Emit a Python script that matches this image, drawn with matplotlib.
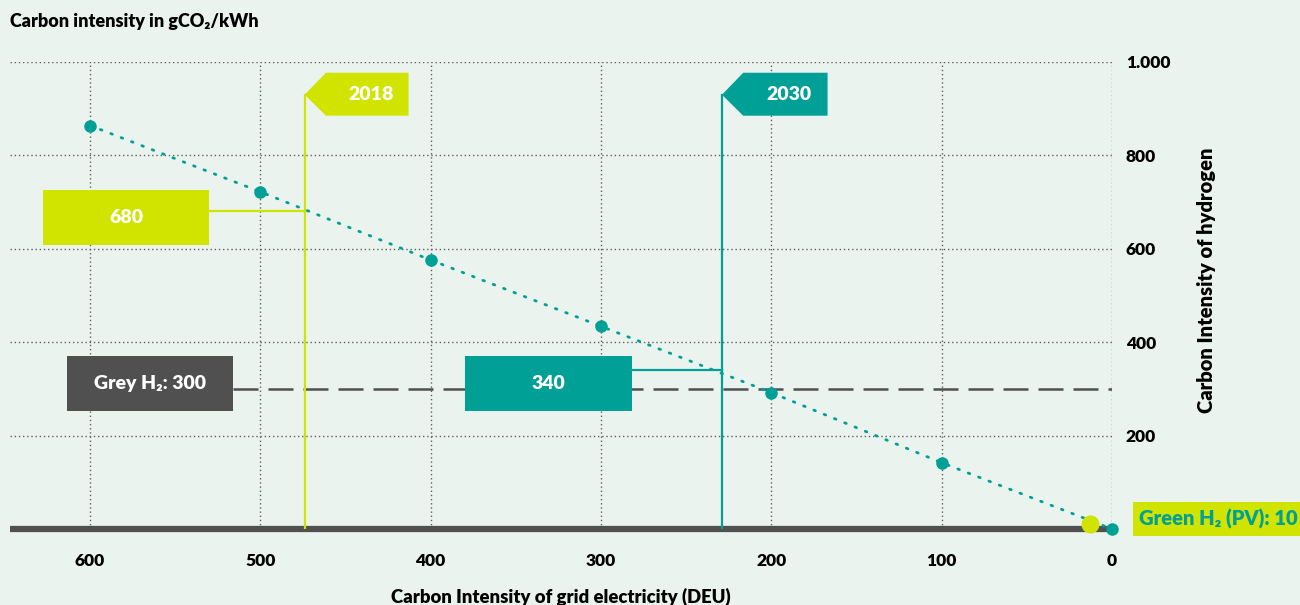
import matplotlib.pyplot as plt
from matplotlib.patches import Polygon, Rectangle
from matplotlib.ticker import FuncFormatter

plt.rcParams['font.family'] = ['Lato', 'DejaVu Sans']
plt.rcParams['font.weight'] = 'heavy'

# grid electricity intensity (gCO2/kWh) vs. resulting hydrogen intensity
grid_ci = [600, 500, 400, 300, 200, 100, 0]
h2_ci = [864, 722, 576, 434, 292, 142, 0]

grey_h2 = 300
green_pv = 10
green_pv_x = 13

year_labels = ["2018", "2030"]
year_grid = [474, 229]
year_h2 = [680, 340]

x_ticks = [600, 500, 400, 300, 200, 100, 0]
y_ticks = [200, 400, 600, 800, 1000]

bg = '#eaf3ee'
teal = '#00a096'
lime = '#d0e400'
dark = '#505050'
W = 'heavy'

fig = plt.figure(figsize=(13, 6.05), dpi=100, facecolor=bg)
ax = fig.add_axes([10/1300, 76/605, 1102/1300, 467/605], facecolor=bg)
ax.set_xlim(647, 0)
ax.set_ylim(0, 1000)

for s in ax.spines.values():
    s.set_visible(False)

# dotted grid
for xv in x_ticks:
    ax.plot([xv, xv], [0, 1000], color='#606060', lw=1, ls=(0, (1, 2)), zorder=1)
for yv in y_ticks:
    ax.plot([647, 0], [yv, yv], color='#606060', lw=1, ls=(0, (1, 2)), zorder=1)

# base line
ax.plot([647, 0], [0, 0], color=dark, lw=4.5, zorder=3, clip_on=False, solid_capstyle='butt')

# grey hydrogen reference
ax.plot([516, 0], [grey_h2, grey_h2], color=dark, lw=1.8, dashes=(10, 4), zorder=2)

# hydrogen intensity line
ax.plot(grid_ci, h2_ci, color=teal, lw=2, ls=(0, (0.6, 3.4)), dash_capstyle='round', zorder=4)
ax.plot(grid_ci, h2_ci, 'o', color=teal, ms=8, zorder=5, clip_on=False)
ax.plot([green_pv_x], [green_pv], 'o', color=lime, ms=12, zorder=5, clip_on=False)

# year markers with flags
flag_cols = [lime, teal]
flag_right = [413, 167]
for lab, xv, yv, col, xr in zip(year_labels, year_grid, year_h2, flag_cols, flag_right):
    ax.plot([xv, xv], [0, 930], color=col, lw=1.6, zorder=3)
    notch = xv - 12.5
    flag = Polygon([(xv, 930), (notch, 977), (xr, 977), (xr, 885), (notch, 885)],
                   closed=True, facecolor=col, edgecolor='none', zorder=6)
    ax.add_patch(flag)
    ax.text((notch + xr) / 2 - 2, 931, lab, color='white', fontsize=14,
            fontweight=W, ha='center', va='center', zorder=7)

# value boxes connected to the year lines
boxes = [(627.6, 530, 608, 726, lime, "680", year_grid[0], year_h2[0]),
         (380, 282, 253, 371, teal, "340", year_grid[1], year_h2[1])]
for x0, x1, y0, y1, col, lab, xl, yl in boxes:
    ax.add_patch(Rectangle((x1, y0), x0 - x1, y1 - y0, facecolor=col, edgecolor='none', zorder=6))
    ax.plot([x1, xl], [yl, yl], color=col, lw=1.6, zorder=3)
    ax.text((x0 + x1) / 2, (y0 + y1) / 2, lab, color='white', fontsize=14,
            fontweight=W, ha='center', va='center', zorder=7)

ax.add_patch(Rectangle((516, 253), 613.5 - 516, 371 - 253, facecolor=dark, edgecolor='none', zorder=6))
ax.text((613.5 + 516) / 2, 312, "Grey H\u2082: 300", color='white', fontsize=14,
        fontweight=W, ha='center', va='center', zorder=7)

# green hydrogen label at the right edge
fig.patches.append(Rectangle((1133/1300, (605-536)/605), 180/1300, 34/605,
                             transform=fig.transFigure, facecolor=lime, edgecolor='none'))
fig.text(1139/1300, (605-519)/605, "Green H\u2082 (PV): 10", color=teal, fontsize=14.5,
         fontweight=W, ha='left', va='center')

# ticks
ax.set_xticks(x_ticks)
ax.set_yticks(y_ticks)
ax.tick_params(axis='both', length=0, labelsize=12.5)
ax.tick_params(axis='x', pad=17)
ax.yaxis.tick_right()
ax.tick_params(axis='y', pad=10)
ax.yaxis.set_major_formatter(FuncFormatter(lambda v, p: f"{int(v):,}".replace(',', '.')))
for t in ax.get_xticklabels() + ax.get_yticklabels():
    t.set_fontweight(W)

fig.text(10/1300, (605-22)/605, "Carbon intensity in gCO\u2082/kWh", fontsize=13,
         fontweight=W, ha='left', va='center')
fig.text(1207/1300, (605-280)/605, "Carbon Intensity of hydrogen", fontsize=14.5,
         fontweight=W, rotation=90, ha='center', va='center')
fig.text(561/1300, (605-597)/605, "Carbon Intensity of grid electricity (DEU)", fontsize=13.3,
         fontweight=W, ha='center', va='center')

fig.savefig('out.png', dpi=100, facecolor=bg)
